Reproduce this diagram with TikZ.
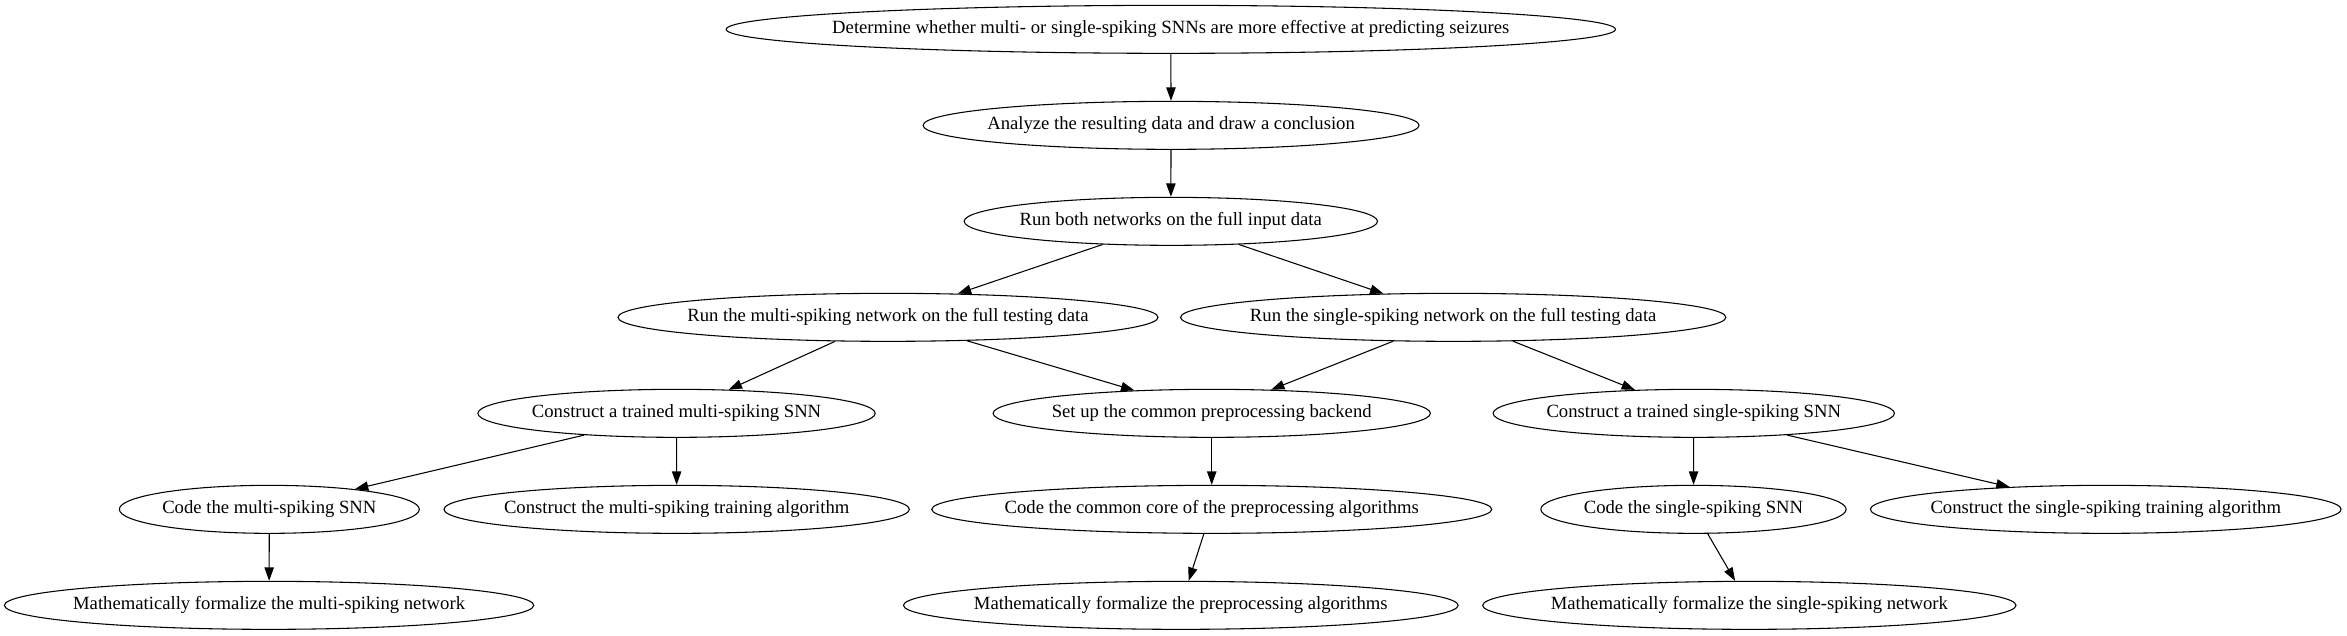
\documentclass[tikz,border=0pt]{standalone}
\usepackage{fontspec}
\setmainfont{Liberation Serif}
\usetikzlibrary{shapes.geometric,arrows.meta}
\begin{document}
\begin{tikzpicture}[x=1pt,y=1pt,%
        every node/.style={font=\fontsize{14pt}{16pt}\selectfont},
        task/.style={ellipse,draw=black,line width=0.8pt,inner xsep=-80pt,
          inner ysep=0pt,minimum height=36pt},%
        dep/.style={draw=black,line width=0.8pt,-{Triangle[length=10pt,width=7pt]}}]%
        \useasboundingbox (0,0) rectangle (1760.25,-476.25);
        \node[task,minimum width=667pt] (goal) at (878.1,-22)
        {Determine whether multi- or single-spiking SNNs are more effective at predicting seizures};
        \node[task,minimum width=372pt] (concl) at (878.3,-94)
        {Analyze the resulting data and draw a conclusion};
        \node[task,minimum width=310pt] (runall) at (878.1,-166)
        {Run both networks on the full input data};
        \node[task,minimum width=405pt] (runmulti) at (666,-238)
        {Run the multi-spiking network on the full testing data};
        \node[task,minimum width=409pt] (runsingle) at (1089.9,-238)
        {Run the single-spiking network on the full testing data};
        \node[task,minimum width=298pt] (trainmulti) at (507.4,-310)
        {Construct a trained multi-spiking SNN};
        \node[task,minimum width=328pt] (backend) at (908.8,-310)
        {Set up the common preprocessing backend};
        \node[task,minimum width=301pt] (trainsingle) at (1270.3,-310)
        {Construct a trained single-spiking SNN};
        \node[task,minimum width=225pt] (codemulti) at (202,-382)
        {Code the multi-spiking SNN};
        \node[task,minimum width=349pt] (algmulti) at (507.5,-382)
        {Construct the multi-spiking training algorithm};
        \node[task,minimum width=420pt] (corepre) at (908.8,-382)
        {Code the common core of the preprocessing algorithms};
        \node[task,minimum width=229pt] (codesingle) at (1270.1,-382)
        {Code the single-spiking SNN};
        \node[task,minimum width=353pt] (algsingle) at (1579.3,-382)
        {Construct the single-spiking training algorithm};
        \node[task,minimum width=397pt] (mathmulti) at (201.8,-454)
        {Mathematically formalize the multi-spiking network};
        \node[task,minimum width=416pt] (mathpre) at (885.6,-454)
        {Mathematically formalize the preprocessing algorithms};
        \node[task,minimum width=400pt] (mathsingle) at (1312,-454)
        {Mathematically formalize the single-spiking network};
        \draw[dep] (goal) -- (concl); \draw[dep] (concl) -- (runall);
        \draw[dep] (runall) -- (runmulti); \draw[dep] (runall) -- (runsingle);
        \draw[dep] (runmulti) -- (trainmulti); \draw[dep] (runmulti) -- (backend);
        \draw[dep] (runsingle) -- (backend); \draw[dep] (runsingle) -- (trainsingle);
        \draw[dep] (trainmulti) -- (codemulti); \draw[dep] (trainmulti) -- (algmulti);
        \draw[dep] (backend) -- (corepre); \draw[dep] (trainsingle) -- (codesingle);
        \draw[dep] (trainsingle) -- (algsingle); \draw[dep] (codemulti) -- (mathmulti);
        \draw[dep] (corepre) -- (mathpre); \draw[dep] (codesingle) -- (mathsingle);
      \end{tikzpicture}
\end{document}
